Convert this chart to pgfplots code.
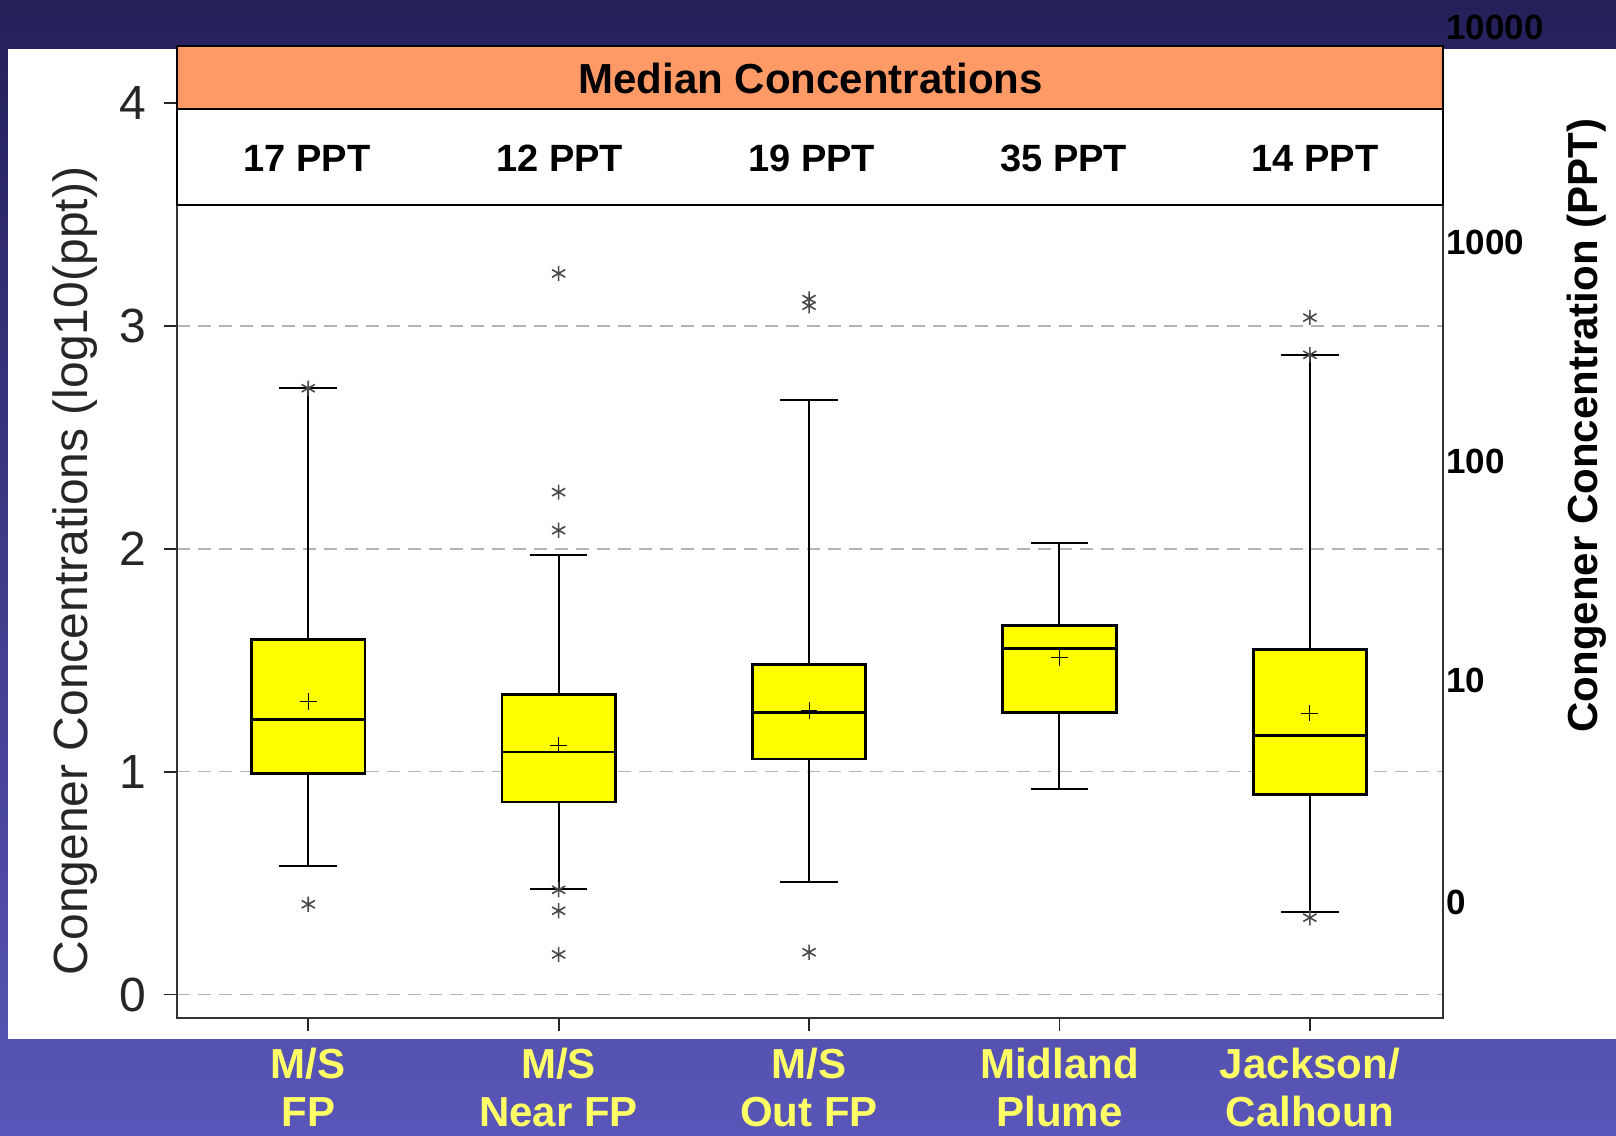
\documentclass[border=0pt]{standalone}
\usepackage{fontspec}
\setmainfont{Liberation Sans}
\usepackage{pgfplots}
\pgfplotsset{compat=1.18}
\usepgfplotslibrary{statistics}
\definecolor{navy}{HTML}{23205A}
\definecolor{slide}{HTML}{5A56B9}
\definecolor{boxyellow}{HTML}{FFFF00}
\definecolor{hdrorange}{HTML}{FF9966}
\definecolor{labyellow}{HTML}{FFFF66}
\definecolor{gridgray}{HTML}{B4B4B4}
\definecolor{stargray}{HTML}{4A4A4A}

\begin{document}
\begin{tikzpicture}[x=0.5pt,y=-0.5pt]
\path[use as bounding box] (0,0) rectangle (1616,1135);
\shade[top color=navy, bottom color=slide] (0,0) rectangle (1616,1135);
\fill[white] (8,49) rectangle (1616,1039);
\begin{axis}[
  at={(88.65pt,-509.1pt)}, anchor=south west,
  scale only axis, width=632.75pt, height=468.8pt,
  xmin=0.477, xmax=5.531, ymin=-0.106, ymax=4.1,
  clip=false,
  axis line style={draw=black!80, line width=1.1pt},
  tick align=outside, major tick length=6.5pt,
  tick style={black!85, line width=0.9pt},
  xtick pos=bottom, ytick pos=left,
  xtick={1,2,3,4,5},
  xticklabels={{M/S\\FP},{M/S\\Near FP},{M/S\\Out FP},{Midland\\Plume},{Jackson/\\Calhoun}},
  xticklabel style={align=center, font=\fontsize{21}{24}\selectfont\bfseries, text=labyellow, anchor=north, inner sep=0pt},
  xticklabel shift=8pt,
  ytick={0,1,2,3,4},
  yticklabel style={font=\fontsize{24}{28}\selectfont, text=black!85, anchor=center, inner sep=0pt},
  yticklabel shift=15.5pt,
  /pgf/number format/assume math mode=true,
  ymajorgrids, major grid style={gridgray, line width=0.8pt, dash pattern=on 6.5pt off 4pt},
  boxplot/draw direction=y,
  boxplot/box extend=0.453, boxplot/whisker extend=0.23,
  boxplot/every box/.style={line width=1.4pt},
  boxplot/every median/.style={line width=1.4pt},
  boxplot/every whisker/.style={line width=1pt},
  boxplot/every average/.style={/tikz/mark=+, /tikz/mark size=4.2pt, /tikz/mark options={black, line width=1.1pt, solid}},
  bp/.style={draw=black, fill=boxyellow, mark=asterisk, mark size=3.8pt, mark options={stargray, line width=0.8pt}},
]
\addplot[bp, boxplot prepared={draw position=1, lower whisker=0.577, lower quartile=0.99, median=1.235, upper quartile=1.594, upper whisker=2.72, average=1.315}]
  table[row sep=\\, y index=0] {y\\ 0.405\\ 2.72\\};
\addplot[bp, boxplot prepared={draw position=2, lower whisker=0.473, lower quartile=0.864, median=1.088, upper quartile=1.345, upper whisker=1.97, average=1.12}]
  table[row sep=\\, y index=0] {y\\ 3.235\\ 2.254\\ 2.083\\ 0.47\\ 0.376\\ 0.18\\};
\addplot[bp, boxplot prepared={draw position=3, lower whisker=0.505, lower quartile=1.057, median=1.266, upper quartile=1.48, upper whisker=2.667, average=1.273}]
  table[row sep=\\, y index=0] {y\\ 3.12\\ 3.09\\ 0.19\\};
\addplot[bp, boxplot prepared={draw position=4, lower whisker=0.923, lower quartile=1.264, median=1.553, upper quartile=1.655, upper whisker=2.025, average=1.512}]
  coordinates {};
\addplot[bp, boxplot prepared={draw position=5, lower whisker=0.37, lower quartile=0.896, median=1.163, upper quartile=1.549, upper whisker=2.87, average=1.263}]
  table[row sep=\\, y index=0] {y\\ 3.037\\ 2.87\\ 0.345\\};
% header panel
\filldraw[fill=hdrorange, draw=black, line width=1pt] (axis cs:0.477,3.9726) rectangle (axis cs:5.531,4.2553);
\filldraw[fill=white, draw=black, line width=1pt] (axis cs:0.477,3.544) rectangle (axis cs:5.531,3.9726);
\node[anchor=base, font=\fontsize{21}{24}\selectfont\bfseries] at (axis cs:3.006,4.043) {Median Concentrations};
\node[anchor=base, font=\fontsize{19}{22}\selectfont\bfseries] at (axis cs:0.995,3.691) {17 PPT};
\node[anchor=base, font=\fontsize{19}{22}\selectfont\bfseries] at (axis cs:2.004,3.691) {12 PPT};
\node[anchor=base, font=\fontsize{19}{22}\selectfont\bfseries] at (axis cs:3.011,3.691) {19 PPT};
\node[anchor=base, font=\fontsize{19}{22}\selectfont\bfseries] at (axis cs:4.017,3.691) {35 PPT};
\node[anchor=base, font=\fontsize{19}{22}\selectfont\bfseries] at (axis cs:5.021,3.691) {14 PPT};
\end{axis}
% axis titles
\node[rotate=90, anchor=base, font=\fontsize{24}{28}\selectfont, text=black!85] at (87,571) {Congener Concentrations (log10(ppt))};
\node[rotate=90, anchor=base, font=\fontsize{21}{25}\selectfont\bfseries] at (1597,425.5) {Congener Concentration (PPT)};
% right-hand scale labels
\foreach \v/\yy in {10000/27.5, 1000/242, 100/461, 10/680, 0/902.5}
  \node[anchor=west, inner sep=0pt, font=\fontsize{17.5}{20}\selectfont\bfseries] at (1446,\yy) {\v};
\end{tikzpicture}
\end{document}
